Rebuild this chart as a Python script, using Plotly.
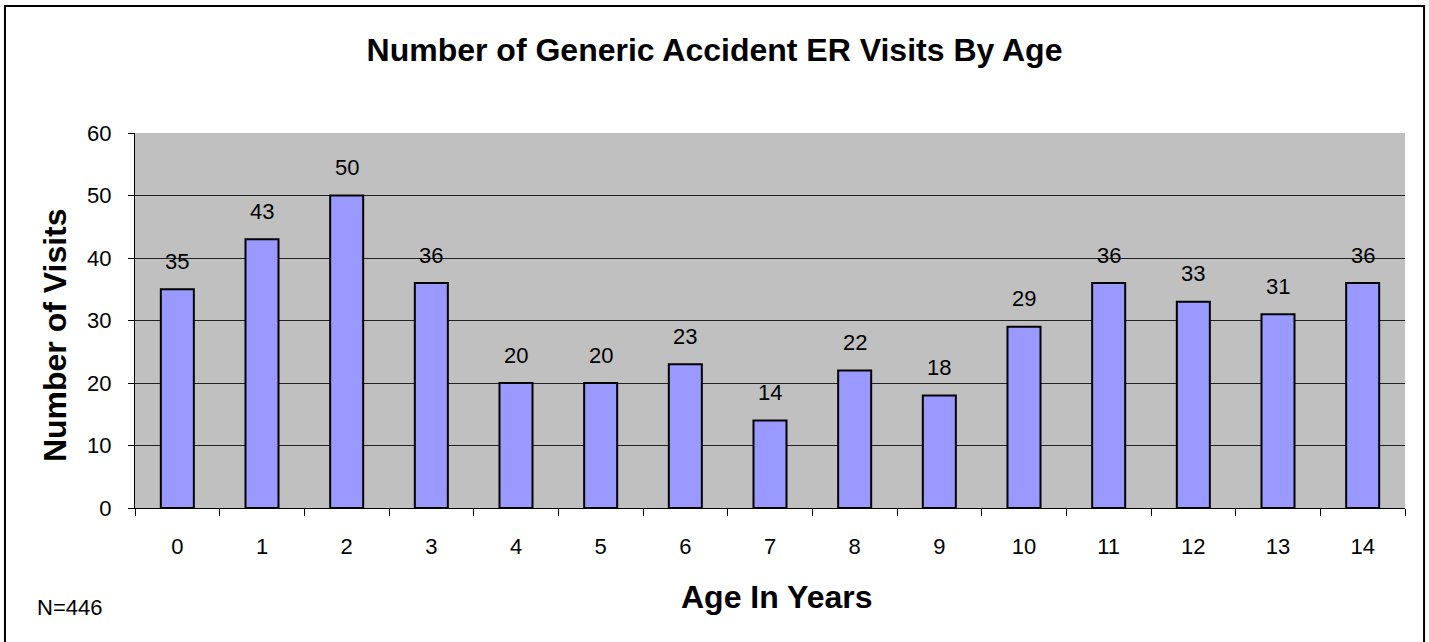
import plotly.graph_objects as go

# Data
ages = [str(a) for a in range(15)]
visits = [35, 43, 50, 36, 20, 20, 23, 14, 22, 18, 29, 36, 33, 31, 36]
y_ticks = [0, 10, 20, 30, 40, 50, 60]

FONT = "Liberation Sans, Arial, sans-serif"

fig = go.Figure()

fig.add_trace(go.Bar(
    x=ages, y=visits,
    marker=dict(color="#9999FF", line=dict(color="black", width=2)),
    showlegend=False,
))

# value labels above each bar
for a, v in zip(ages, visits):
    fig.add_annotation(x=a, y=v, text=str(v), showarrow=False,
                       yshift=28, font=dict(size=22, color="black", family=FONT))

# axis titles, placed as in the original
fig.add_annotation(x=0.5055, y=-0.237, xref="paper", yref="paper",
                   text="<b>Age In Years</b>", showarrow=False,
                   xanchor="center", yanchor="middle",
                   font=dict(size=32, color="black", family=FONT))
fig.add_annotation(x=-0.063, y=0.461, xref="paper", yref="paper",
                   text="<b>Number of Visits</b>", showarrow=False, textangle=-90,
                   xanchor="center", yanchor="middle",
                   font=dict(size=32, color="black", family=FONT))

# N label
fig.add_annotation(x=-0.0787, y=-0.264, xref="paper", yref="paper",
                   text="N=446", showarrow=False, xanchor="left", yanchor="middle",
                   font=dict(size=22, color="black", family=FONT))

# outer chart border
fig.add_shape(type="rect", xref="paper", yref="paper",
              x0=-0.1024, x1=1.015, y0=-0.37, y1=1.3387,
              line=dict(color="black", width=2), fillcolor="rgba(0,0,0,0)",
              layer="below")

fig.update_layout(
    width=1429, height=642,
    margin=dict(l=135, r=24, t=133, b=134),
    paper_bgcolor="white",
    plot_bgcolor="#C0C0C0",
    bargap=0.61,
    font=dict(family=FONT, size=22, color="black"),
    title=dict(text="<b>Number of Generic Accident ER Visits By Age</b>",
               x=0.5, xanchor="center", y=0.922, yanchor="middle",
               font=dict(size=32, family=FONT)),
    xaxis=dict(
        type="category", tickson="boundaries", ticks="outside",
        ticklen=7, tickcolor="black", tickwidth=1,
        showline=True, linecolor="black", linewidth=1,
        showgrid=False, ticklabelstandoff=19,
    ),
    yaxis=dict(
        range=[0, 60], tickvals=y_ticks, ticks="outside",
        ticklen=6, tickcolor="black", tickwidth=1,
        showline=True, linecolor="black", linewidth=1,
        showgrid=True, gridcolor="#222222", gridwidth=1,
        zeroline=False, ticklabelstandoff=12,
    ),
)

# the page's default body margin would shift the figure by 8px
fig.write_html("out.html", config={"displayModeBar": False},
               post_script="document.body.style.margin='0';")
